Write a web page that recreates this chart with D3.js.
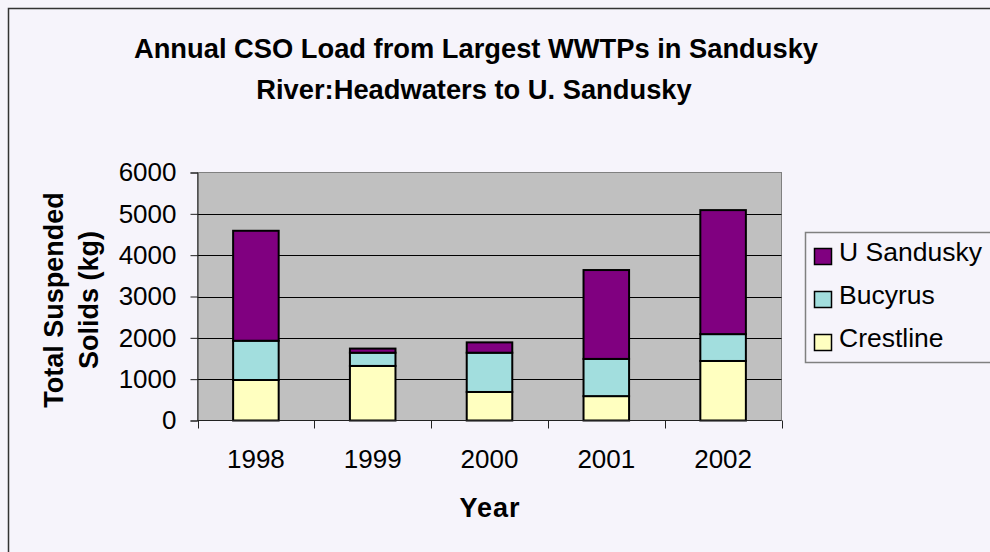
<!DOCTYPE html>
<html>
<head>
<meta charset="utf-8">
<script src="https://cdn.jsdelivr.net/npm/d3@7"></script>
<style>
  html, body { margin: 0; padding: 0; background: #F6F4FB; }
  svg { display: block; font-family: "Liberation Sans", Arial, sans-serif; }
</style>
</head>
<body>
<svg id="chart" width="990" height="552"></svg>
<script>
const years = ["1998", "1999", "2000", "2001", "2002"];
const seriesNames = ["Crestline", "Bucyrus", "U Sandusky"];
const crestline = [980, 1320, 690, 590, 1440];
const bucyrus = [950, 320, 950, 900, 650];
const uSandusky = [2660, 100, 250, 2150, 3000];
const yTicks = [0, 1000, 2000, 3000, 4000, 5000, 6000];
const seriesColors = ["#FFFFC0", "#A2DEDE", "#800080"];
const titleLines = ["Annual CSO Load from Largest WWTPs in Sandusky", "River:Headwaters to U. Sandusky"];
const yTitleLines = ["Total Suspended", "Solids (kg)"];
const xTitle = "Year";

const svg = d3.select("#chart");
const W = 990, H = 552;

// background and outer border
svg.append("rect").attr("x", 0).attr("y", 0).attr("width", W).attr("height", H).attr("fill", "#F6F4FB");
svg.append("rect").attr("x", 8.5).attr("y", 8.5).attr("width", 1100).attr("height", 700)
  .attr("fill", "none").attr("stroke", "#333").attr("stroke-width", 1.5);

const plot = { left: 197.5, top: 172.5, right: 781.5, bottom: 420.5 };

const x = d3.scaleBand().domain(years).range([plot.left, plot.right]).paddingInner(0.61).paddingOuter(0.305);
const xOuter = d3.scaleBand().domain(years).range([plot.left, plot.right]);
const y = d3.scaleLinear().domain([0, 6000]).range([plot.bottom, plot.top]);

// plot background
svg.append("rect").attr("x", plot.left).attr("y", plot.top)
  .attr("width", plot.right - plot.left).attr("height", plot.bottom - plot.top)
  .attr("fill", "#C0C0C0").attr("stroke", "#808080").attr("stroke-width", 1);

// gridlines
svg.append("g").selectAll("line").data(yTicks.filter(t => t > 0 && t < 6000)).join("line")
  .attr("x1", plot.left).attr("x2", plot.right)
  .attr("y1", d => Math.round(y(d)) + 0.5).attr("y2", d => Math.round(y(d)) + 0.5)
  .attr("stroke", "#000").attr("stroke-width", 1);

// stacked data
const table = years.map((yr, i) => ({ year: yr, "Crestline": crestline[i], "Bucyrus": bucyrus[i], "U Sandusky": uSandusky[i] }));
const stack = d3.stack().keys(seriesNames)(table);

svg.append("g").selectAll("g").data(stack).join("g")
  .attr("fill", (d, i) => seriesColors[i])
  .selectAll("rect").data(d => d).join("rect")
  .attr("x", d => x(d.data.year))
  .attr("width", x.bandwidth())
  .attr("y", d => y(d[1]))
  .attr("height", d => y(d[0]) - y(d[1]))
  .attr("stroke", "#000").attr("stroke-width", 2);

// y axis
const yAxis = d3.axisLeft(y).tickValues(yTicks).tickSize(7).tickPadding(14).tickFormat(d3.format("d"));
const gy = svg.append("g").attr("transform", `translate(${plot.left},0)`).call(yAxis);
gy.select(".domain").attr("stroke", "#222").attr("stroke-width", 1);
gy.selectAll(".tick line").attr("stroke", "#222");
gy.selectAll(".tick text").attr("font-size", 26).attr("fill", "#000")
  .attr("font-family", "'Liberation Sans', Arial, sans-serif");

// x axis: ticks at category boundaries
const gx = svg.append("g").attr("transform", `translate(0,${plot.bottom})`);
gx.append("line").attr("x1", plot.left).attr("x2", plot.right).attr("y1", 0).attr("y2", 0)
  .attr("stroke", "#222").attr("stroke-width", 1);
const boundaries = years.map(d => xOuter(d)).concat([plot.right]);
gx.selectAll("line.tk").data(boundaries).join("line").attr("class", "tk")
  .attr("x1", d => Math.round(d) + 0.5).attr("x2", d => Math.round(d) + 0.5)
  .attr("y1", 0).attr("y2", 8).attr("stroke", "#222");
gx.selectAll("text").data(years).join("text")
  .attr("x", d => xOuter(d) + xOuter.bandwidth() / 2)
  .attr("y", 47)
  .attr("text-anchor", "middle")
  .attr("font-size", 26)
  .attr("fill", "#000")
  .text(d => d);

// x title
svg.append("text").attr("x", 490).attr("y", 517).attr("text-anchor", "middle")
  .attr("font-size", 27).attr("font-weight", "bold").attr("letter-spacing", 1).text(xTitle);

// y title
const yt = svg.append("text").attr("transform", "translate(0,300) rotate(-90)")
  .attr("text-anchor", "middle").attr("font-size", 27).attr("font-weight", "bold");
yt.append("tspan").attr("x", 0).attr("y", 63).text(yTitleLines[0]);
yt.append("tspan").attr("x", 0).attr("y", 98).text(yTitleLines[1]);

// title
const tt = svg.append("text").attr("text-anchor", "middle").attr("font-size", 27.3).attr("font-weight", "bold");
tt.append("tspan").attr("x", 476).attr("y", 58).text(titleLines[0]);
tt.append("tspan").attr("x", 474).attr("y", 98.5).text(titleLines[1]);

// legend
const lg = svg.append("g");
lg.append("rect").attr("x", 805.5).attr("y", 232.5).attr("width", 300).attr("height", 130)
  .attr("fill", "#F6F4FB").attr("stroke", "#808080").attr("stroke-width", 1.5);
const legendOrder = [2, 1, 0];
const items = lg.selectAll("g.item").data(legendOrder).join("g").attr("class", "item")
  .attr("transform", (d, i) => `translate(814,${248 + i * 43})`);
items.append("rect").attr("x", 0.5).attr("y", 0.5).attr("width", 17).attr("height", 16)
  .attr("fill", d => seriesColors[d]).attr("stroke", "#000").attr("stroke-width", 1.5);
items.append("text").attr("x", 25).attr("y", 13).attr("font-size", 26.5).attr("fill", "#000")
  .text(d => seriesNames[d]);
</script>
</body>
</html>
